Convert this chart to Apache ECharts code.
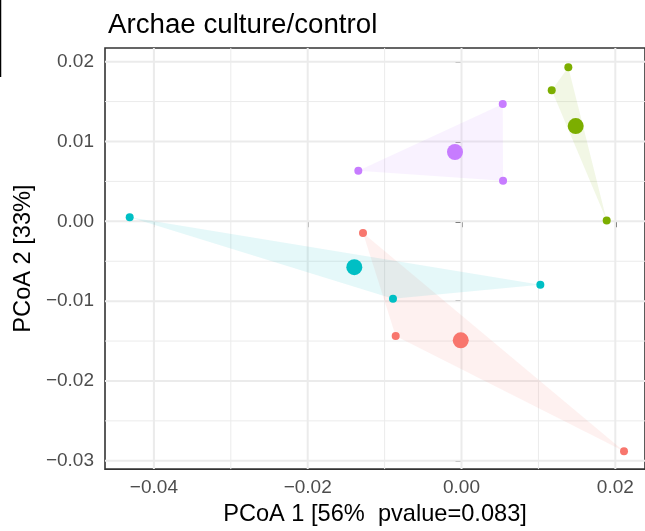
<!DOCTYPE html>
<html>
<head>
<meta charset="utf-8">
<script src="https://cdn.jsdelivr.net/npm/echarts@6/dist/echarts.min.js"></script>
<style>html,body{margin:0;padding:0;background:#fff}#c{width:645px;height:531px}</style>
</head>
<body>
<div id="c"></div>
<script>
// ---- data ----
const titleText = 'Archae culture/control';
const xTitle = 'PCoA 1 [56%  pvalue=0.083]';
const yTitle = 'PCoA 2 [33%]';
const xTicks = [-0.04, -0.02, 0.00, 0.02];
const yTicks = [-0.03, -0.02, -0.01, 0.00, 0.01, 0.02];
const xMinor = [-0.03, -0.01, 0.01];
const yMinor = [-0.025, -0.015, -0.005, 0.005, 0.015];

const groupNames = ['red', 'green', 'cyan', 'purple'];
const groupColors = ['#F8766D', '#7CAE00', '#00BFC4', '#C77CFF'];
// sample points per group
const redX = [-0.01281, -0.00856, 0.02113];
const redY = [-0.00145, -0.01438, -0.02879];
const greenX = [0.01389, 0.01173, 0.01888];
const greenY = [0.01930, 0.01643, 0.00010];
const cyanX = [-0.04315, -0.00891, 0.01025];
const cyanY = [0.00050, -0.00970, -0.00795];
const purpleX = [0.00536, -0.01342, 0.00540];
const purpleY = [0.01471, 0.00634, 0.00509];
// group centroids
const centroidX = [-0.00010, 0.01485, -0.01394, -0.00085];
const centroidY = [-0.01491, 0.01193, -0.00575, 0.00868];

const groupsX = [redX, greenX, cyanX, purpleX];
const groupsY = [redY, greenY, cyanY, purpleY];

// axis extents
const xMin = -0.04636, xMax = 0.02386;
const yMin = -0.03104, yMax = 0.02171;

const fmt = v => {
  const s = Math.abs(v).toFixed(2);
  return (v < -1e-9 ? '\u2212' : '') + s;
};

const chart = echarts.init(document.getElementById('c'), null, {renderer: 'canvas'});

const series = [];
// gridlines drawn through the axes' scales
const gridData = [];
xTicks.forEach(v => gridData.push(['x', v, 2]));
xMinor.forEach(v => gridData.push(['x', v, 1]));
yTicks.forEach(v => gridData.push(['y', v, 2]));
yMinor.forEach(v => gridData.push(['y', v, 1]));
series.push({
  type: 'custom', silent: true, z: 1,
  data: gridData.map(d => [d[1], d[2], d[0] === 'x' ? 0 : 1]),
  renderItem: function (params, api) {
    const v = api.value(0), w = api.value(1), isY = api.value(2) === 1;
    let p1, p2;
    if (!isY) { p1 = api.coord([v, yMin]); p2 = api.coord([v, yMax]); }
    else { p1 = api.coord([xMin, v]); p2 = api.coord([xMax, v]); }
    return {type: 'line', shape: {x1: p1[0], y1: p1[1], x2: p2[0], y2: p2[1]},
      style: {stroke: '#EBEBEB', lineWidth: w}};
  }
});

// hull polygons
groupNames.forEach((g, i) => {
  const pts = groupsX[i].map((x, k) => [x, groupsY[i][k]]);
  series.push({
    type: 'custom', silent: true, z: 2,
    data: [0],
    renderItem: function (params, api) {
      const poly = pts.map(p => api.coord(p));
      return {type: 'polygon', shape: {points: poly},
        style: {fill: groupColors[i], opacity: 0.1}};
    }
  });
});

// points
groupNames.forEach((g, i) => {
  series.push({
    type: 'scatter', name: g, z: 3,
    data: groupsX[i].map((x, k) => [x, groupsY[i][k]]),
    symbolSize: 8,
    itemStyle: {color: groupColors[i], opacity: 1}
  });
  series.push({
    type: 'scatter', name: g + '-centroid', z: 4,
    data: [[centroidX[i], centroidY[i]]],
    symbolSize: 16,
    itemStyle: {color: groupColors[i], opacity: 1}
  });
});

chart.setOption({
  animation: false,
  backgroundColor: '#ffffff',
  title: {
    text: titleText, left: 103, top: 6,
    textStyle: {fontFamily: 'Liberation Sans', fontSize: 27.7, fontWeight: 'normal', color: '#000'}
  },
  grid: {
    left: 105, top: 48, right: 0, bottom: 61,
    show: true, borderColor: '#333333', borderWidth: 1.6, backgroundColor: 'transparent'
  },
  xAxis: {
    type: 'value', min: xMin, max: xMax,
    name: xTitle, nameLocation: 'middle', nameGap: 32,
    nameTextStyle: {fontFamily: 'Liberation Sans', fontSize: 23.6, color: '#000'},
    axisLine: {show: false},
    axisTick: {show: true, customValues: xTicks, length: 6, lineStyle: {color: '#333', width: 1.6}},
    axisLabel: {customValues: xTicks, formatter: fmt, margin: 9,
      fontFamily: 'Liberation Sans', fontSize: 19, color: '#4D4D4D'},
    splitLine: {show: false}
  },
  yAxis: {
    type: 'value', min: yMin, max: yMax,
    name: yTitle, nameLocation: 'middle', nameGap: 63, nameRotate: 90,
    nameTextStyle: {fontFamily: 'Liberation Sans', fontSize: 23.6, color: '#000'},
    axisLine: {show: false},
    axisTick: {show: true, customValues: yTicks, length: 6, lineStyle: {color: '#333', width: 1.6}},
    axisLabel: {customValues: yTicks, formatter: fmt, margin: 11,
      fontFamily: 'Liberation Sans', fontSize: 19, color: '#4D4D4D'},
    splitLine: {show: false}
  },
  graphic: [{
    type: 'line', silent: true,
    shape: {x1: 0.5, y1: 0, x2: 0.5, y2: 77},
    style: {stroke: '#000', lineWidth: 1.5}
  }],
  series: series
});
</script>
</body>
</html>
